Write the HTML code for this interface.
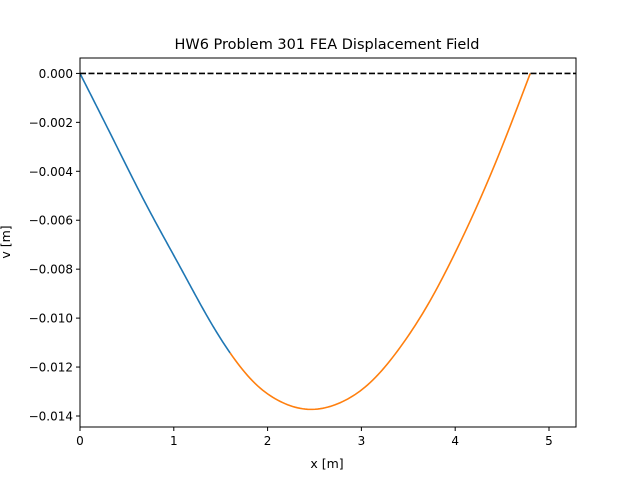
<!DOCTYPE html>
<html><head><meta charset="utf-8"><style>
body{margin:0;background:#fff;}
svg{display:block;font-family:"DejaVu Sans","Liberation Sans",sans-serif;}
</style></head><body>
<svg id="chart" width="640" height="480">
<rect width="640" height="480" fill="#fff"/>
<text x="327" y="49" font-size="14.5" text-anchor="middle">HW6 Problem 301 FEA Displacement Field</text>
<text x="327" y="468" font-size="12.5" text-anchor="middle">x [m]</text>
<text transform="translate(10,242) rotate(-90)" font-size="12.5" text-anchor="middle">v [m]</text>
<g id="plot"></g>
<rect x="80" y="58" width="496" height="369" fill="none" stroke="#000" stroke-width="1"/>
</svg>
<script>
const blueX=[0,0.355,0.711,1.066,1.421,1.6];
const blueY=[0,-0.0027,-0.0054,-0.0079,-0.01035,-0.01142];
const orangeX=[1.6,1.848,2.132,2.452,2.772,3.092,3.412,3.731,3.945,4.478,4.8];
const orangeY=[-0.01142,-0.0126,-0.0134,-0.01373,-0.01346,-0.01264,-0.0112,-0.0093,-0.00775,-0.0032,0];
const xTicks=[0,1,2,3,4,5];
const yTicks=[0,-0.002,-0.004,-0.006,-0.008,-0.010,-0.012,-0.014];
const refX=[0,4.8];
const NS="http://www.w3.org/2000/svg";
const X0=80,X1=576,Y0=58,Y1=427,xmin=0,xmax=5.288,ymin=-0.01445,ymax=0.00063;
function sx(v){return X0+(v-xmin)/(xmax-xmin)*(X1-X0);}
function sy(v){return Y1-(v-ymin)/(ymax-ymin)*(Y1-Y0);}
const g=document.getElementById('plot');
function mk(t,a){const e=document.createElementNS(NS,t);for(const k in a)e.setAttribute(k,a[k]);g.appendChild(e);return e;}
const AX=blueX.concat(orangeX.slice(1)), AY=blueY.concat(orangeY.slice(1));
function spline(xs,ys){const n=xs.length,h=[],a=[],l=[1],mu=[0],z=[0],c=new Array(n).fill(0),b=[],d=[];
for(let i=0;i<n-1;i++)h[i]=xs[i+1]-xs[i];
for(let i=1;i<n-1;i++)a[i]=3/h[i]*(ys[i+1]-ys[i])-3/h[i-1]*(ys[i]-ys[i-1]);
for(let i=1;i<n-1;i++){l[i]=2*(xs[i+1]-xs[i-1])-h[i-1]*mu[i-1];mu[i]=h[i]/l[i];z[i]=(a[i]-h[i-1]*z[i-1])/l[i];}
for(let j=n-2;j>=0;j--){c[j]=(z[j]||0)-mu[j]*c[j+1];b[j]=(ys[j+1]-ys[j])/h[j]-h[j]*(c[j+1]+2*c[j])/3;d[j]=(c[j+1]-c[j])/(3*h[j]);}
return x=>{let j=0;while(j<n-2&&x>xs[j+1])j++;const t=x-xs[j];return ys[j]+b[j]*t+c[j]*t*t+d[j]*t*t*t;};}
const f=spline(AX,AY);
function path(x0,x1){let d='';const N=120;for(let i=0;i<=N;i++){const x=x0+(x1-x0)*i/N;d+=(i?'L':'M')+sx(x).toFixed(2)+','+sy(f(x)).toFixed(2);}return d;}
xTicks.forEach(t=>{const x=sx(t);
const l=mk('line',{x1:x,x2:x,y1:Y1,y2:Y1+4,stroke:'#000'});


const tx=mk('text',{x:x,y:Y1+18,'font-size':'12','text-anchor':'middle'});tx.textContent=t;

});
yTicks.forEach(t=>{const y=sy(t);
const l=mk('line',{x1:X0-4,x2:X0,y1:y,y2:y,stroke:'#000'});


const tx=mk('text',{x:X0-7,y:y+4.5,'font-size':'12','text-anchor':'end'});tx.textContent=t.toFixed(3).replace('-','\u2212');

});
const b=mk('path',{d:path(blueX[0],blueX[blueX.length-1]),fill:'none',stroke:'#1f77b4','stroke-width':'1.6'});


const o=mk('path',{d:path(orangeX[0],orangeX[orangeX.length-1]),fill:'none',stroke:'#ff7f0e','stroke-width':'1.6'});


const r=mk('line',{x1:sx(refX[0]),x2:X1,y1:sy(0),y2:sy(0),stroke:'#000','stroke-width':'1.6','stroke-dasharray':'6,2.5'});


</script>
</body></html>
